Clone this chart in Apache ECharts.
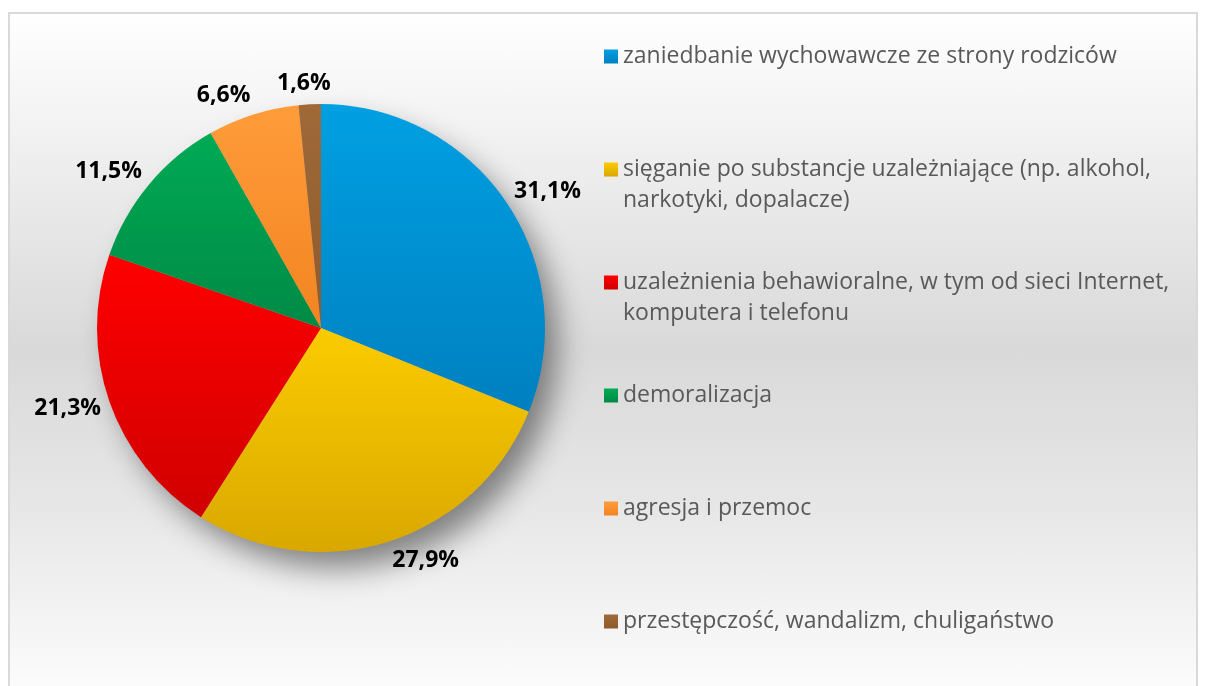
<!DOCTYPE html>
<html>
<head>
<meta charset="utf-8">
<script src="https://cdn.jsdelivr.net/npm/echarts@6/dist/echarts.min.js"></script>
<style>
    html, body { margin: 0; padding: 0; background: #fff; }
    #frame {
        position: absolute; left: 8px; top: 12px; width: 1190px; height: 700px;
        border: 2px solid #d9d9d9; box-sizing: border-box;
        background: linear-gradient(to bottom, #ffffff 0%, #efefef 20%, #d9d9d9 48%, #e6e6e6 70%, #fbfbfb 96%);
    }
    #main { position: absolute; left: 0; top: 0; width: 1206px; height: 686px; }
</style>
</head>
<body>
<div id="frame"></div>
<div id="main"></div>
<script>
// kategorie (z łamaniem linii jak w legendzie)
const categories = [
    'zaniedbanie wychowawcze ze strony rodziców',
    'sięganie po substancje uzależniające (np. alkohol,\nnarkotyki, dopalacze)',
    'uzależnienia behawioralne, w tym od sieci Internet,\nkomputera i telefonu',
    'demoralizacja',
    'agresja i przemoc',
    'przestępczość, wandalizm, chuligaństwo'
]
// udział procentowy
const values = [31.1, 27.9, 21.3, 11.5, 6.6, 1.6]

// kolory: góra / dół gradientu
const topColors = ['#00a0e2', '#fbcb00', '#ff0000', '#00aa55', '#ff9c3a', '#9f6a38']
const bottomColors = ['#0080c0', '#d9a800', '#d00000', '#008a45', '#f28420', '#8f5a2c']

const CX = 321, CY = 328, R = 224, GAP = 9

const chart = echarts.init(document.getElementById('main'))

const total = values.reduce((a, b) => a + b, 0)

// etykiety jak w Excelu - najbliższy narożnik tekstu na promieniu środka wycinka
const placeLabel = p => {
    if (p.seriesIndex !== 1) return
    const i = p.dataIndex
    let before = 0
    for (let k = 0; k < i; k++) before += values[k]
    const mid = (before + values[i] / 2) / total * Math.PI * 2
    const dx = Math.sin(mid), dy = -Math.cos(mid)
    const hw = p.labelRect.width / 2, hh = p.labelRect.height / 2
    const px = CX + dx * (R + GAP), py = CY + dy * (R + GAP)
    const fx = Math.sign(dx) * Math.min(1, Math.abs(dx) / 0.25)
    return { x: px + hw * fx, y: py + hh * dy, align: 'center', verticalAlign: 'middle' }
}

chart.setOption({
    animation: false,
    legend: {
        orient: 'vertical',
        left: 604,
        top: 10,
        padding: 0,
        itemGap: 20,
        icon: 'rect',
        itemWidth: 14,
        itemHeight: 14,
        selectedMode: false,
        textStyle: {
            fontFamily: 'Open Sans',
            fontSize: 23,
            color: '#595959',
            lineHeight: 31
        },
        // każdy wpis ma 3 linie, ikona przy pierwszej linii tekstu
        formatter: name => name.indexOf('\n') >= 0 ? '\n' + name : '\n' + name + '\n ',
        data: categories
    },
    series: [
        {
            // cień pod kołem
            type: 'pie',
            silent: true,
            center: [CX, CY],
            radius: R - 2,
            label: { show: false },
            labelLine: { show: false },
            itemStyle: {
                color: '#a8a8a8',
                shadowBlur: 30,
                shadowOffsetX: 14,
                shadowOffsetY: 18,
                shadowColor: 'rgba(0,0,0,0.45)'
            },
            data: [{ name: 'shadow', value: total }]
        },
        {
            type: 'pie',
            center: [CX, CY],
            radius: R,
            startAngle: 90,
            clockwise: true,
            avoidLabelOverlap: false,
            label: {
                show: true,
                position: 'outside',
                fontFamily: 'Open Sans',
                fontWeight: 'bold',
                fontSize: 23,
                color: '#000',
                formatter: p => p.value.toFixed(1).replace('.', ',') + '%'
            },
            labelLine: { show: false, length: 14, length2: 0 },
            labelLayout: placeLabel,
            emphasis: { disabled: true },
            data: categories.map((name, i) => ({
                name: name,
                value: values[i],
                itemStyle: {
                    color: new echarts.graphic.LinearGradient(0, 0, 0, 1, [
                        { offset: 0, color: topColors[i] },
                        { offset: 1, color: bottomColors[i] }
                    ])
                }
            }))
        }
    ]
})
</script>
</body>
</html>
